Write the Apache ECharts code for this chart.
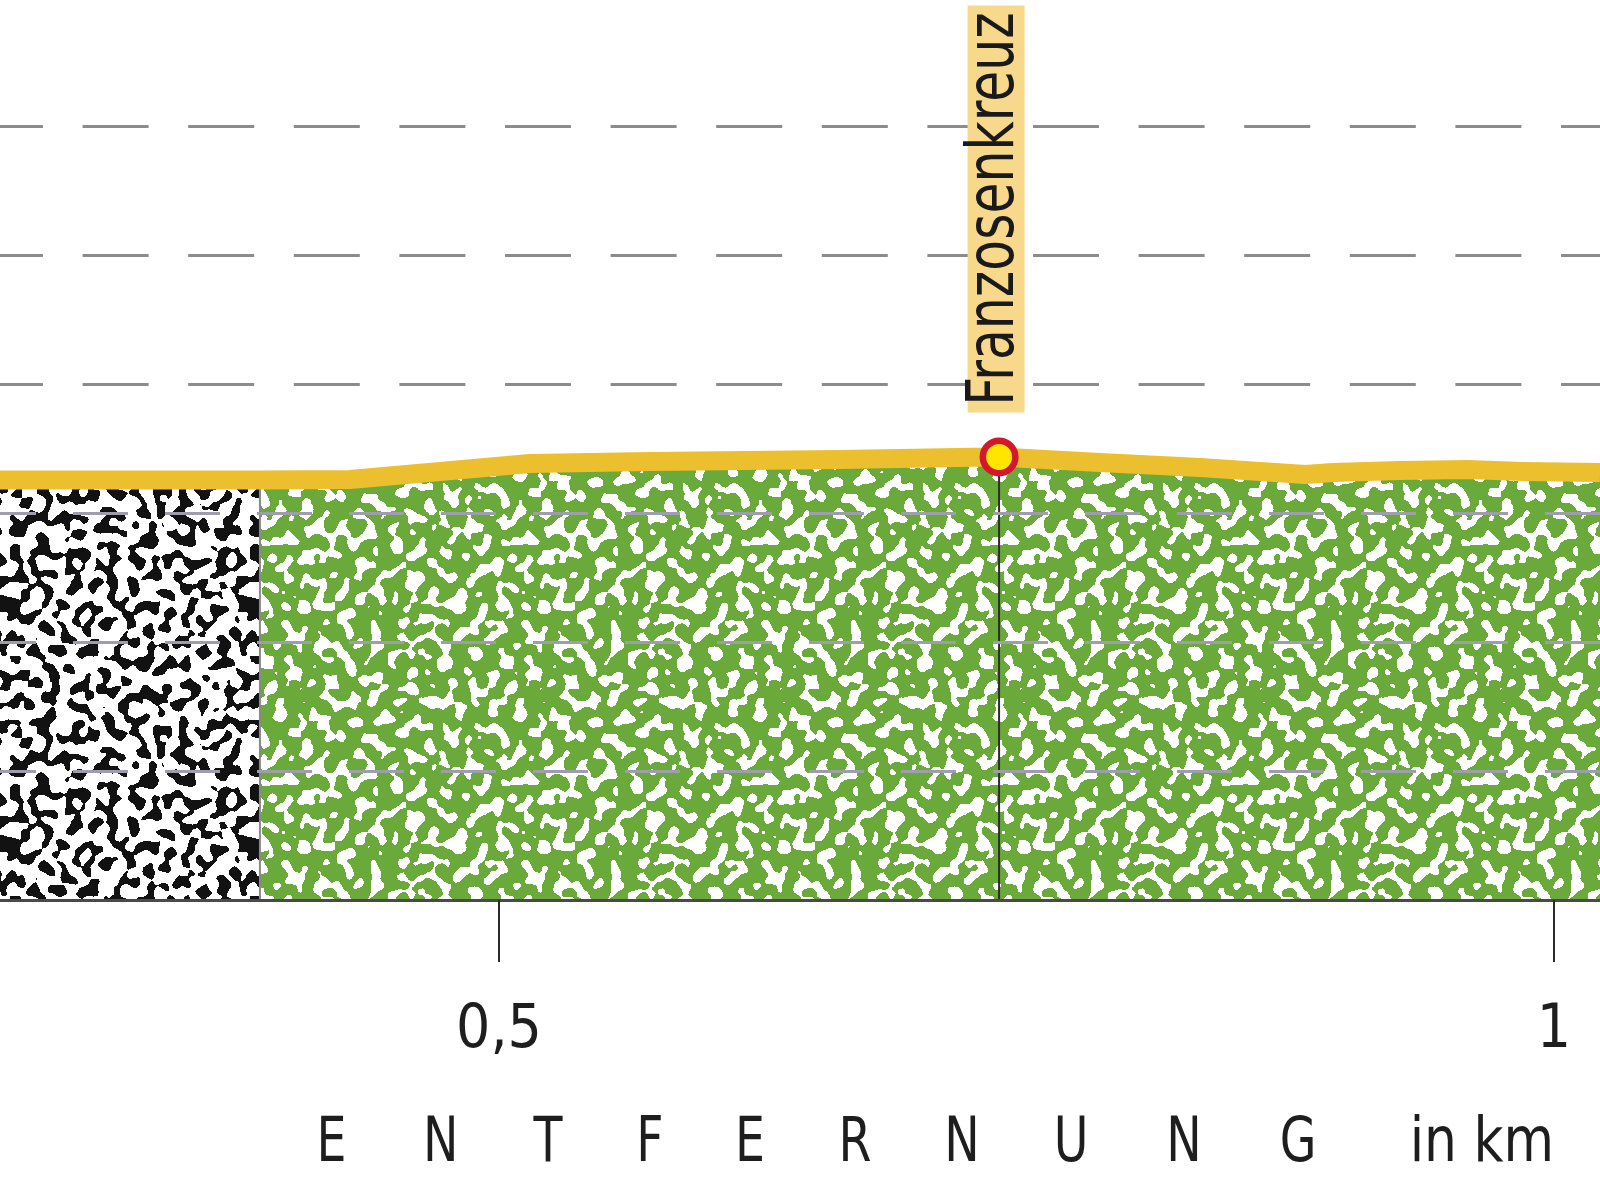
<!DOCTYPE html>
<html>
<head>
<meta charset="utf-8">
<script src="https://cdn.jsdelivr.net/npm/echarts@6/dist/echarts.min.js"></script>
<style>
  html, body { margin: 0; padding: 0; background: #ffffff; }
  #chart { width: 1600px; height: 1200px; }
</style>
</head>
<body>
<div id="chart"></div>
<script>
// ---------------- data ----------------
const distanceKm = [0.2635, 0.3820, 0.3867, 0.4294, 0.5147, 0.5716, 0.6616, 0.7246, 0.7370, 0.7848, 0.8322, 0.8820, 0.8953, 0.9270, 0.9588, 0.9853, 1.0218];
const elevation  = [32.56, 32.56, 32.56, 32.60, 33.84, 33.99, 34.15, 34.32, 34.34, 33.91, 33.53, 32.98, 33.14, 33.29, 33.37, 33.22, 33.14];
const surfaceBreakKm = 0.3867;          // paved (black) -> unpaved (green)
const waypointName = 'Franzosenkreuz';
const waypointKm = 0.7370;
const xTickValues = [0.5, 1];
const fillGridValues = [10, 20, 30];     // grid lines drawn over the profile fill
const axisTitleLetters = ['E', 'N', 'T', 'F', 'E', 'R', 'N', 'U', 'N', 'G'];
const axisTitleUnit = 'in km';

// ---------------- helpers ----------------
const FONT = "'Liberation Sans Narrow', 'DejaVu Sans Condensed', 'Noto Sans', sans-serif";
const xMin = distanceKm[0], xMax = distanceKm[distanceKm.length - 1];
const yMin = 0, yMax = 69.767, yStep = 10;

function hash(i, j, s) {
  let h = Math.imul(i, 374761393) ^ Math.imul(j, 668265263) ^ Math.imul(s, 1103515245);
  h = Math.imul(h ^ (h >>> 13), 1274126177);
  h ^= h >>> 16;
  return (h >>> 0) / 4294967296;
}
// band-pass filtered hash texture -> evenly spread worm-like blobs
function makePattern(seed, fgFrac, fg, bg, rFine, rCoarse) {
  const S = 240, N = S * S;
  const base = new Float32Array(N);
  for (let y = 0; y < S; y++) for (let x = 0; x < S; x++) base[y * S + x] = hash(x, y, seed);
  const blur = (src, r, passes) => {
    let a = Float32Array.from(src), b = new Float32Array(N);
    const w = 2 * r + 1;
    for (let p = 0; p < passes; p++) {
      for (let y = 0; y < S; y++) {
        for (let x = 0; x < S; x++) {
          let s = 0;
          for (let k = -r; k <= r; k++) s += a[y * S + ((x + k + S) % S)];
          b[y * S + x] = s / w;
        }
      }
      for (let y = 0; y < S; y++) {
        for (let x = 0; x < S; x++) {
          let s = 0;
          for (let k = -r; k <= r; k++) s += b[((y + k + S) % S) * S + x];
          a[y * S + x] = s / w;
        }
      }
    }
    return a;
  };
  const fine = blur(base, rFine, 3);
  const coarse = blur(base, rCoarse, 3);
  const d = new Float32Array(N);
  for (let i = 0; i < N; i++) d[i] = fine[i] - coarse[i];
  const sorted = Float32Array.from(d).sort();
  const t = sorted[Math.floor((1 - fgFrac) * N)];
  const cv = document.createElement('canvas');
  cv.width = S; cv.height = S;
  const ctx = cv.getContext('2d');
  const img = ctx.createImageData(S, S);
  for (let i = 0; i < N; i++) {
    const col = d[i] > t ? fg : bg;
    img.data[i * 4] = col[0]; img.data[i * 4 + 1] = col[1]; img.data[i * 4 + 2] = col[2]; img.data[i * 4 + 3] = 255;
  }
  ctx.putImageData(img, 0, 0);
  return cv;
}
const pavedPattern = makePattern(3, 0.40, [18, 18, 18], [255, 255, 255], 3, 7);
const greenPattern = makePattern(11, 0.33, [255, 255, 255], [106, 170, 58], 3, 8);

const profile = distanceKm.map((d, i) => [d, elevation[i]]);
const pavedData = profile.filter(p => p[0] <= surfaceBreakKm);
const unpavedData = profile.filter(p => p[0] >= surfaceBreakKm);
const breakElev = elevation[distanceKm.indexOf(surfaceBreakKm)];
const wpElev = elevation[distanceKm.indexOf(waypointKm)];

const chart = echarts.init(document.getElementById('chart'), null, { renderer: 'canvas' });

const option = {
  animation: false,
  backgroundColor: '#ffffff',
  grid: { left: 0, right: 0, top: 0, bottom: 300, containLabel: false },
  xAxis: {
    type: 'value', min: xMin, max: xMax, z: 10,
    axisLine: { show: true, onZero: false, lineStyle: { color: '#4a4a4a', width: 3 } },
    axisTick: { show: true, customValues: xTickValues, length: 62, lineStyle: { color: '#2a2a2a', width: 2 } },
    axisLabel: {
      show: true, customValues: xTickValues, margin: 101,
      fontFamily: FONT, fontSize: 60, color: '#1e1e1e',
      formatter: v => String(v).replace('.', ',')
    },
    splitLine: { show: false }
  },
  yAxis: {
    type: 'value', min: yMin, max: yMax, interval: yStep,
    axisLine: { show: false }, axisTick: { show: false }, axisLabel: { show: false },
    splitLine: {
      show: true, showMinLine: false, showMaxLine: false,
      lineStyle: { color: '#8c8c8c', width: 3, type: [66, 39.6], dashOffset: 23 }
    }
  },
  series: [
    {
      name: 'paved', type: 'line', data: pavedData, symbol: 'none', z: 2,
      lineStyle: { width: 0 },
      areaStyle: { color: { image: pavedPattern, repeat: 'repeat' }, opacity: 1 }
    },
    {
      name: 'unpaved', type: 'line', data: unpavedData, symbol: 'none', z: 2,
      lineStyle: { width: 0 },
      areaStyle: { color: { image: greenPattern, repeat: 'repeat' }, opacity: 1 },
      markLine: {
        silent: true, symbol: 'none', label: { show: false },
        lineStyle: { color: '#9d9dac', width: 3, type: [55, 37], dashOffset: 19 },
        data: fillGridValues.map(v => ({ yAxis: v }))
      }
    },
    {
      name: 'surfaceBreak', type: 'line', symbol: 'none', z: 3,
      data: [[surfaceBreakKm, yMin], [surfaceBreakKm, breakElev]],
      lineStyle: { color: '#8a8a8a', width: 2 }
    },
    {
      name: 'waypointStem', type: 'line', symbol: 'none', z: 3,
      data: [[waypointKm, yMin], [waypointKm, wpElev]],
      lineStyle: { color: '#2d2d2d', width: 2 }
    },
    {
      name: 'profile', type: 'line', data: profile, symbol: 'none', z: 4,
      lineStyle: { color: '#ebbf2e', width: 19, cap: 'butt', join: 'round' }
    },
    {
      name: 'waypoint', type: 'scatter', data: [[waypointKm, wpElev]], z: 5,
      symbol: 'circle', symbolSize: 32.5,
      itemStyle: { color: '#ffe500', borderColor: '#d4172b', borderWidth: 6.5, opacity: 1 }
    }
  ]
};
chart.setOption(option);

// ---- text graphics (label of waypoint and axis title) ----
const wpPx = chart.convertToPixel({ gridIndex: 0 }, [waypointKm, wpElev]);
const letterX = [331.6, 440.8, 548, 650, 750, 855, 962, 1071, 1184, 1298];
const unitRightPx = chart.convertToPixel({ gridIndex: 0 }, [xTickValues[1], yMin])[0];
const graphics = [
  {
    type: 'text', x: wpPx[0] - 3, y: 209, rotation: Math.PI / 2, scaleX: 0.85, z: 100,
    style: {
      text: waypointName, font: '66px ' + FONT, fill: '#1a1a1a',
      align: 'center', verticalAlign: 'middle',
      backgroundColor: '#f8d98b', padding: [0, 8], lineHeight: 57
    }
  }
];
axisTitleLetters.forEach((ch, i) => {
  graphics.push({
    type: 'text', x: letterX[i], y: 1145, scaleX: 0.85, z: 100,
    style: { text: ch, font: '62px ' + FONT, fill: '#1e1e1e', align: 'center', verticalAlign: 'middle' }
  });
});
graphics.push({
  type: 'text', x: unitRightPx, y: 1145, scaleX: 0.93, z: 100,
  style: { text: axisTitleUnit, font: '62px ' + FONT, fill: '#1e1e1e', align: 'right', verticalAlign: 'middle' }
});
chart.setOption({ graphic: graphics });
</script>
</body>
</html>
